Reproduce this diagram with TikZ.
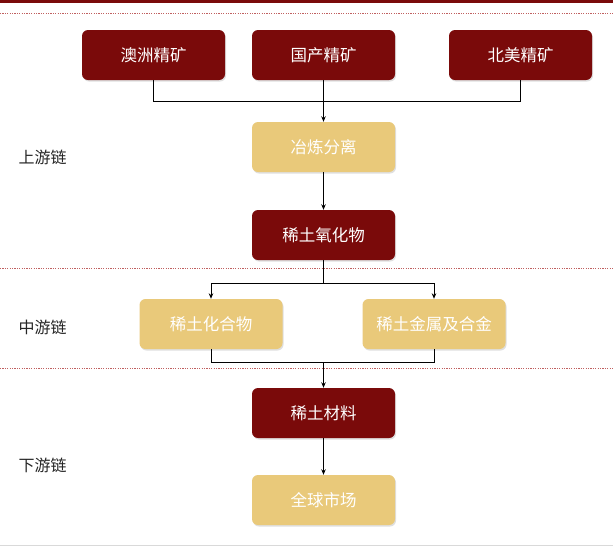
\documentclass[tikz,border=0pt]{standalone}
\usepackage{fontspec}
\setmainfont{Noto Sans CJK SC}
\usetikzlibrary{shadows,arrows.meta}
\definecolor{darkred}{HTML}{7A0A0A}
\definecolor{sand}{HTML}{E9C97A}
\definecolor{dotred}{HTML}{C06060}
\tikzset{
  box/.style={rounded corners=6pt, minimum width=143pt, minimum height=50pt, inner sep=0pt,
    font=\fontsize{16.5}{16.5}\selectfont, text=white,
    drop shadow={opacity=0.25, shadow xshift=1pt, shadow yshift=-1.5pt}},
  redbox/.style={box, fill=darkred},
  sandbox/.style={box, fill=sand},
  link/.style={draw=black, line width=0.9pt},
  arr/.style={link, -{Stealth[length=5.5pt,width=4.5pt]}},
  sep/.style={draw=dotred, line width=0.7pt, dash pattern=on 1.2pt off 1.2pt},
  lab/.style={font=\fontsize{16}{16}\selectfont, text=black!85},
}
\begin{document}
\begin{tikzpicture}[x=1pt,y=-1pt]
\useasboundingbox (0,0) rectangle (613,547);
\fill[white] (0,0) rectangle (613,547);
\fill[darkred] (0,0) rectangle (613,3);
\draw[sep] (0,13) -- (613,13);
\draw[sep] (0,268) -- (613,268);
\draw[sep] (0,368) -- (613,368);
\draw[black!15, line width=0.8pt] (0,545.5) -- (613,545.5);

\node[redbox] (a1) at (153.5,55) {澳洲精矿};
\node[redbox] (a2) at (323.5,55) {国产精矿};
\node[redbox] (a3) at (520.5,55) {北美精矿};
\node[sandbox] (b) at (323.5,147) {冶炼分离};
\node[redbox] (c) at (323.5,235) {稀土氧化物};
\node[sandbox] (d1) at (211,324) {稀土化合物};
\node[sandbox] (d2) at (434,324) {稀土金属及合金};
\node[redbox] (e) at (323.5,413) {稀土材料};
\node[sandbox] (f) at (323.5,500) {全球市场};

\node[lab] (l1) at (42.5,157) {上游链};
\node[lab] (l2) at (42.5,327) {中游链};
\node[lab] (l3) at (42.5,465) {下游链};

\coordinate (j1) at (323.5,101);
\draw[link] (a1.south) |- (j1);
\draw[link] (a3.south) |- (j1);
\draw[arr] (a2.south) -- (b.north);
\draw[arr] (b.south) -- (c.north);
\coordinate (j2) at (323.5,283);
\draw[link] (c.south) -- (j2);
\draw[arr] (j2) -| (d1.north);
\draw[arr] (j2) -| (d2.north);
\coordinate (j3) at (323.5,362);
\draw[link] (d1.south) |- (j3);
\draw[link] (d2.south) |- (j3);
\draw[arr] (j3) -- (e.north);
\draw[arr] (e.south) -- (f.north);
\end{tikzpicture}
\end{document}
